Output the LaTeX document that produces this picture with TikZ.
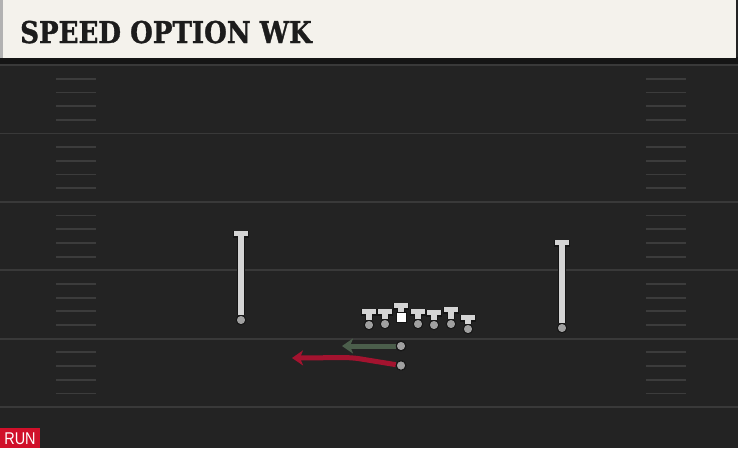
\documentclass[tikz,border=0pt]{standalone}
\usepackage{fontspec}
\usetikzlibrary{arrows.meta}
\newfontfamily\titlefont{DejaVu Serif}[BoldFeatures={FakeBold=1.2}]
\newfontfamily\tagfont{Liberation Sans}
\definecolor{turf}{HTML}{232323}
\definecolor{paper}{HTML}{F4F2EC}
\definecolor{ink}{HTML}{1C1C1C}
\definecolor{yardline}{HTML}{393939}
\definecolor{hashgray}{HTML}{3C3C3C}
\definecolor{chalk}{HTML}{D4D4D4}
\definecolor{dotgray}{HTML}{A0A0A0}
\definecolor{pitch}{HTML}{151515}
\definecolor{optgreen}{HTML}{4B5E4B}
\definecolor{runred}{HTML}{A3132F}
\definecolor{tagred}{HTML}{D0102A}

\begin{document}
\begin{tikzpicture}[x=1pt,y=-1pt,
  player/.style={circle,fill=dotgray,draw=pitch,line width=1pt,inner sep=0pt,minimum size=9.5pt},
  center node/.style={rectangle,fill=white,draw=pitch,line width=0.8pt,inner sep=0pt,minimum size=10pt},
  block/.style={draw=chalk,line width=5.5pt,-{Bar[width=14pt,line width=5pt]},
    preaction={draw=pitch,line width=7.5pt,-{Bar[width=16pt,line width=7pt]}}},
  route/.style={line width=5pt,-{Stealth[length=11pt,width=15pt,inset=3pt]}},
  hash/.style={draw=hashgray,line width=1.8pt}]

  \useasboundingbox (0,0) rectangle (738,448);
  % field
  \fill[turf] (0,0) rectangle (738,448);
  \fill[pitch] (0,57) rectangle (738,64);
  \foreach \y in {65,133.4,201.8,270.2,338.6,407}
    \draw[yardline,line width=1.8pt] (0,\y) -- (738,\y);
  \foreach \y in {65,133.4,201.8,270.2,338.6}
    \foreach \k in {1,2,3,4} {
      \draw[hash] (56,\y+\k*13.7) -- (96,\y+\k*13.7);
      \draw[hash] (646,\y+\k*13.7) -- (686,\y+\k*13.7);
    }

  % header
  \fill[paper] (0,0) rectangle (736,58);
  \fill[gray!60] (0,0) rectangle (3,58);
  \node[anchor=base west,inner sep=0pt,xscale=0.87,text=ink,
    font=\titlefont\bfseries\fontsize{30}{30}\selectfont] (title) at (20,43) {SPEED OPTION WK};

  % receivers
  \node[player] (wl) at (241,320) {};
  \coordinate (wl top) at (241,231);
  \node[player] (wr) at (562,328) {};
  \coordinate (wr top) at (562,240);
  \draw[block] (wl) -- (wl top);
  \draw[block] (wr) -- (wr top);

  % line
  \foreach \n/\x/\t/\d in {lt/369/309/325,lg/385/309/324,rg/418/309/324,rt/434/310/325,te/451/307/324,wg/468/315/329} {
    \coordinate (\n top) at (\x,\t);
    \node[player] (\n) at (\x,\d) {};
    \draw[block] (\n) -- (\n top);
  }
  \node[center node] (c) at (401,317.5) {};
  \coordinate (c top) at (401,303);
  \draw[block] (c) -- (c top);

  % backs
  \node[player] (qb) at (401,346) {};
  \node[player] (rb) at (401,365.5) {};
  \coordinate (qb end) at (342,346);
  \coordinate (rb end) at (292,358);
  \draw[route,optgreen] (qb) -- (qb end);
  \draw[route,runred,rounded corners=8pt] (rb) -- (352,357.5) -- (rb end);
  \node[player] at (qb) {};
  \node[player] at (rb) {};

  % tag
  \fill[tagred] (0,428) rectangle (40,448);
  \node[text=white,inner sep=0pt,xscale=0.85,font=\tagfont\fontsize{17}{17}\selectfont] (tag) at (20,438.5) {RUN};
\end{tikzpicture}
\end{document}
